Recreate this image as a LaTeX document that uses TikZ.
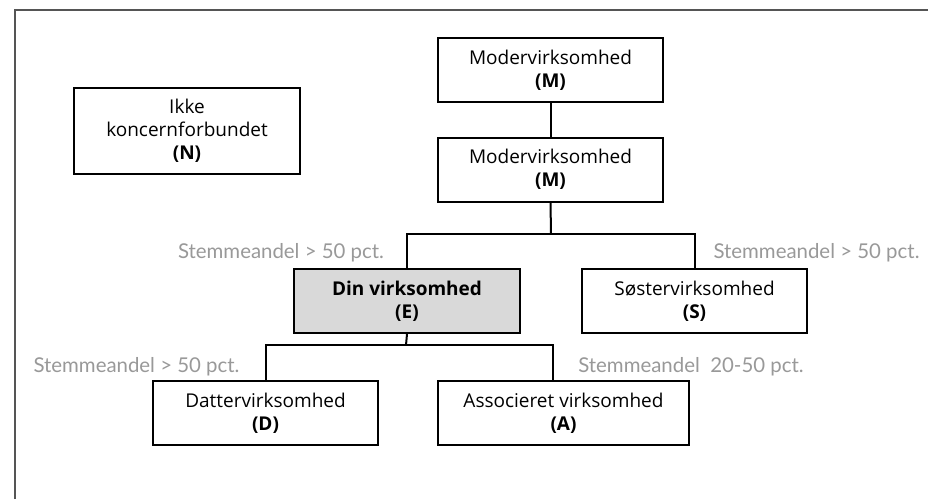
\documentclass[tikz,border=0pt]{standalone}
\usepackage{fontspec}
\setmainfont{Open Sans}
\newfontfamily\labelfont{Lato}
\definecolor{framegray}{HTML}{555555}
\definecolor{labelgray}{HTML}{999999}
\definecolor{egray}{HTML}{D9D9D9}
\begin{document}
\begin{tikzpicture}[x=1pt,y=-1pt,
  box/.style={draw=black, line width=2pt, minimum height=64pt, inner sep=0pt,
    align=center, font=\fontsize{19}{23}\selectfont},
  conn/.style={draw=black, line width=2pt},
  lbl/.style={text=labelgray, inner sep=0pt, font=\labelfont\fontsize{20.4}{24}\selectfont}]
\useasboundingbox (0,0) rectangle (928,499);
\fill[white] (0,0) rectangle (928,499);
\draw[framegray, line width=2pt] (15,499) -- (15,10) -- (928,10);

\node[box, minimum width=225pt] (M1) at (550.5,70) {Modervirksomhed\\\textbf{(M)}};
\node[box, minimum width=225pt] (M2) at (550.5,169.5) {Modervirksomhed\\\textbf{(M)}};
\node[box, minimum width=226pt, minimum height=86pt] (N) at (187,131) {Ikke\\koncernforbundet\\\textbf{(N)}};
\node[box, minimum width=226pt, fill=egray] (E) at (407,301) {\textbf{Din virksomhed}\\\textbf{(E)}};
\node[box, minimum width=225pt] (S) at (694.5,301) {Søstervirksomhed\\\textbf{(S)}};
\node[box, minimum width=225pt] (D) at (265.5,413) {Dattervirksomhed\\\textbf{(D)}};
\node[box, minimum width=251pt] (A) at (563.5,413) {Associeret virksomhed\\\textbf{(A)}};

\coordinate (b1) at (551,234);
\coordinate (b2) at (406,345);
\coordinate (a1) at (553,381);

\draw[conn] (M1.south) -- (M2.north);
\draw[conn] (M2.south) -- (b1);
\draw[conn] (E.north) |- (b1) -| (S.north);
\draw[conn] (E.south) -- (b2);
\draw[conn] (D.north) |- (b2) -| (a1);

\node[lbl] (L1) at (281,253) {Stemmeandel > 50 pct.};
\node[lbl] (L2) at (816.5,253) {Stemmeandel > 50 pct.};
\node[lbl] (L3) at (136.5,367) {Stemmeandel > 50 pct.};
\node[lbl] (L4) at (691,367) {Stemmeandel\ \ 20-50 pct.};
\end{tikzpicture}
\end{document}
